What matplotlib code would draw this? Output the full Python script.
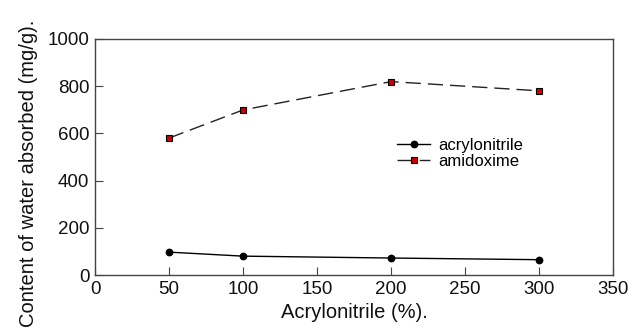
import numpy as np
import matplotlib.pyplot as plt

plt.rcParams['font.family'] = ['Liberation Sans', 'DejaVu Sans']

acr_pct = [50, 100, 200, 300]
acrylonitrile = [97, 80, 72, 65]
amidoxime = [580, 699, 819, 780]

fig = plt.figure(figsize=(6.42, 3.35), dpi=100)
ax = fig.add_axes([0.148, 0.179, 0.807, 0.705])

ax.plot(acr_pct, acrylonitrile, '-', color='black', lw=1.0,
        marker='o', ms=4.6, mfc='black', mec='black', label='acrylonitrile')
ax.plot(acr_pct, amidoxime, color='#222222', lw=1.0, dashes=(11, 5),
        marker='s', ms=4.2, mfc='#cc0000', mec='black', mew=0.8, label='amidoxime')

ax.set_xlim(0, 350)
ax.set_ylim(0, 1000)
ax.set_xticks([0, 50, 100, 150, 200, 250, 300, 350])
ax.set_yticks([0, 200, 400, 600, 800, 1000])
ax.tick_params(direction='in', length=6, width=0.8, labelsize=13.5, pad=4,
               color='#444444', labelcolor='#111111')
for s in ax.spines.values():
    s.set_linewidth(1.0)
    s.set_color('#444444')

ax.set_xlabel('Acrylonitrile (%).', fontsize=14.5, labelpad=4, color='#111111')
ax.set_ylabel('Content of water absorbed (mg/g).', fontsize=14.5, color='#111111')
ax.yaxis.set_label_coords(-0.11, 0.43)

ax.legend(loc='center left', bbox_to_anchor=(0.57, 0.515), frameon=False,
          fontsize=12, handlelength=2.0, handletextpad=0.5, labelspacing=0.1,
          borderaxespad=0)

fig.savefig('out.png', dpi=100)
